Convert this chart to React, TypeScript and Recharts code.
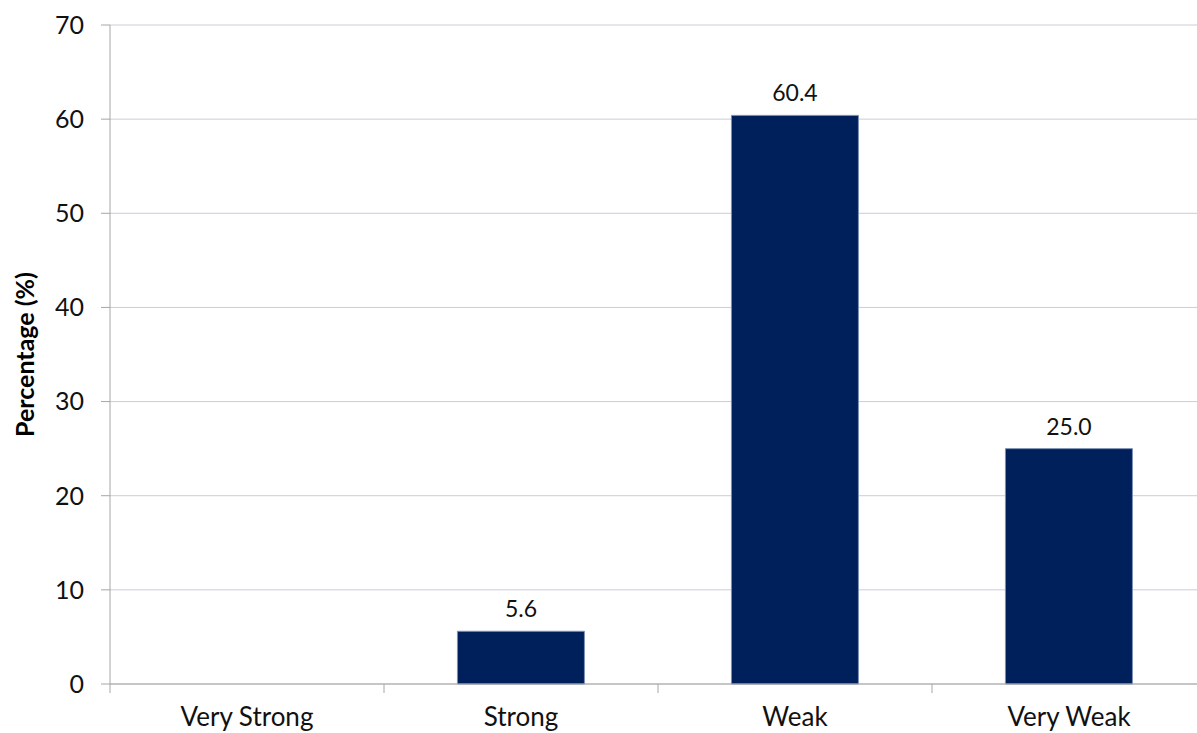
import { BarChart, Bar, XAxis, YAxis, CartesianGrid, LabelList, Label } from 'recharts';

const categories = ['Very Strong', 'Strong', 'Weak', 'Very Weak'];
const percentages: (number | null)[] = [null, 5.6, 60.4, 25.0];
const yTicks = [0, 10, 20, 30, 40, 50, 60, 70];

const data = categories.map((name, i) => ({ name, value: percentages[i] }));

const FONT = 'Lato, "Open Sans", sans-serif';
const AXIS = '#a6a6a6';
const X_TICK = 9;
const X_MARGIN = 15;

// category ticks sit between the bars, labels stay centred under them
function CategoryTick(props: any) {
  const { x, y, payload } = props;
  const half = payload?.offset ?? 137;
  const axisY = y - X_TICK - X_MARGIN;
  return (
    <g>
      <line x1={x - half} x2={x - half} y1={axisY} y2={axisY + X_TICK} stroke={AXIS} />
      <text x={x} y={y} dy="0.71em" textAnchor="middle" fill="#111" fontSize={26} fontFamily={FONT}>
        {payload.value}
      </text>
    </g>
  );
}

export default function App() {
  return (
    <div style={{ position: 'fixed', left: 0, top: 0, width: 1197, height: 733, overflow: 'hidden', background: '#fff' }}>
      <BarChart
        width={1240}
        height={760}
        data={data}
        margin={{ top: 25, right: 34, left: 30, bottom: 26 }}
        barCategoryGap="26.8%"
        style={{ fontFamily: FONT }}
      >
        <CartesianGrid vertical={false} stroke="#c9cdd8" />
        <XAxis
          dataKey="name"
          height={50}
          stroke={AXIS}
          tickLine={false}
          tickSize={X_TICK}
          tickMargin={X_MARGIN}
          tick={<CategoryTick />}
        />
        <YAxis
          width={80}
          domain={[0, 70]}
          ticks={yTicks}
          stroke={AXIS}
          tickSize={9}
          tickMargin={17}
          tick={{ fill: '#111', fontSize: 25, fontFamily: FONT }}
        >
          <Label
            content={({ viewBox }: any) => {
              const cy = viewBox.y + viewBox.height / 2;
              return (
                <text
                  x={24}
                  y={cy}
                  transform={`rotate(-90 24 ${cy})`}
                  textAnchor="middle"
                  dominantBaseline="central"
                  fontSize={25}
                  fontWeight="bold"
                  fontFamily={FONT}
                  fill="#000"
                >
                  Percentage (%)
                </text>
              );
            }}
          />
        </YAxis>
        <Bar dataKey="value" fill="#00205b" stroke="#7d8fb3" strokeWidth={1} isAnimationActive={false}>
          <LabelList
            dataKey="value"
            position="top"
            offset={14}
            fill="#111"
            fontSize={23}
            fontFamily={FONT}
            formatter={(v: any) => (v == null ? '' : Number(v).toFixed(1))}
          />
        </Bar>
      </BarChart>
    </div>
  );
}
